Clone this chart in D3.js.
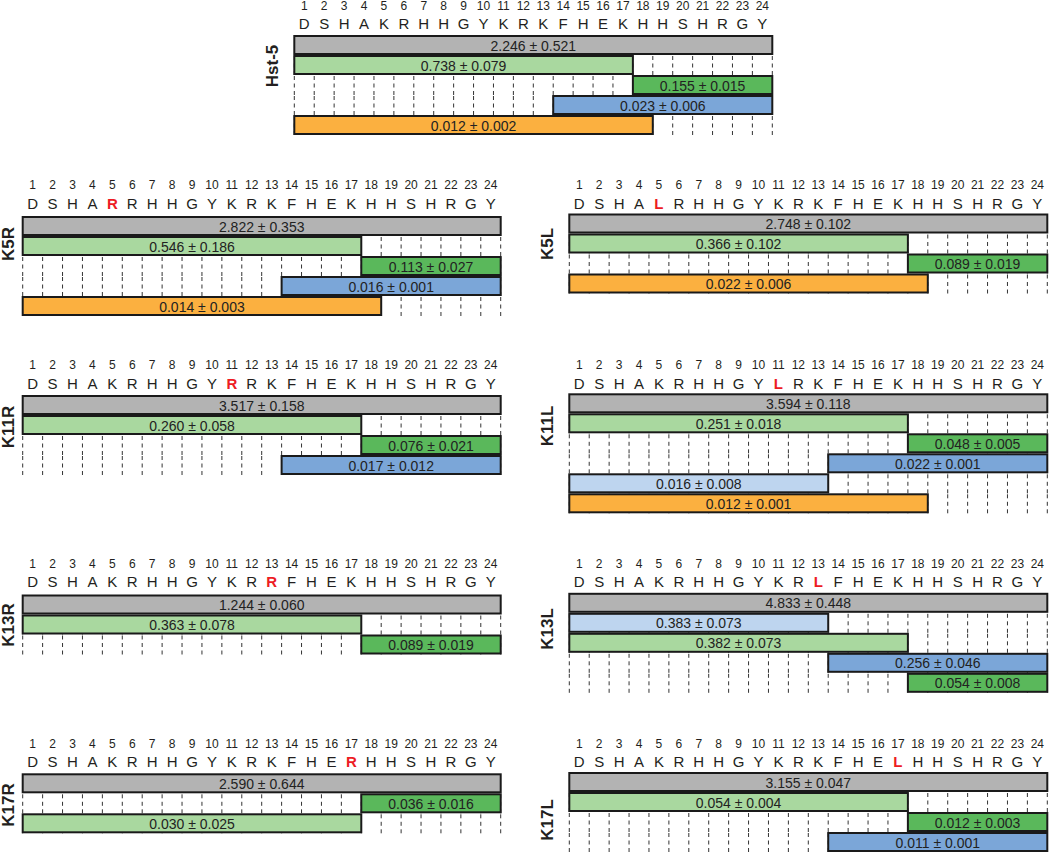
<!DOCTYPE html>
<html>
<head>
<meta charset="utf-8">
<script src="https://cdn.jsdelivr.net/npm/d3@7"></script>
<style>
  html, body { margin: 0; padding: 0; background: #fff; }
  svg { display: block; font-family: "Liberation Sans", Arial, sans-serif; }
</style>
</head>
<body>
<svg id="chart" width="1050" height="853"></svg>
<script>
// ---------------- DATA ----------------
const sequence = ["D","S","H","A","K","R","H","H","G","Y","K","R","K","F","H","E","K","H","H","S","H","R","G","Y"];
const positions = d3.range(1, 25);

const panelNames = ["Hst-5", "K5R", "K5L", "K11R", "K11L", "K13R", "K13L", "K17R", "K17L"];
const mutationPos = [null, 5, 5, 11, 11, 13, 13, 17, 17];
const mutationRes = [null, "R", "L", "R", "L", "R", "L", "R", "L"];

// fragments: [start, end, mean, sd] listed top to bottom
const fragHst5 = [[1,24,2.246,0.521],[1,17,0.738,0.079],[18,24,0.155,0.015],[14,24,0.023,0.006],[1,18,0.012,0.002]];
const fragK5R  = [[1,24,2.822,0.353],[1,17,0.546,0.186],[18,24,0.113,0.027],[14,24,0.016,0.001],[1,18,0.014,0.003]];
const fragK5L  = [[1,24,2.748,0.102],[1,17,0.366,0.102],[18,24,0.089,0.019],[1,18,0.022,0.006]];
const fragK11R = [[1,24,3.517,0.158],[1,17,0.260,0.058],[18,24,0.076,0.021],[14,24,0.017,0.012]];
const fragK11L = [[1,24,3.594,0.118],[1,17,0.251,0.018],[18,24,0.048,0.005],[14,24,0.022,0.001],[1,13,0.016,0.008],[1,18,0.012,0.001]];
const fragK13R = [[1,24,1.244,0.060],[1,17,0.363,0.078],[18,24,0.089,0.019]];
const fragK13L = [[1,24,4.833,0.448],[1,13,0.383,0.073],[1,17,0.382,0.073],[14,24,0.256,0.046],[18,24,0.054,0.008]];
const fragK17R = [[1,24,2.590,0.644],[18,24,0.036,0.016],[1,17,0.030,0.025]];
const fragK17L = [[1,24,3.155,0.047],[1,17,0.054,0.004],[18,24,0.012,0.003],[14,24,0.011,0.001]];
const fragments = [fragHst5, fragK5R, fragK5L, fragK11R, fragK11L, fragK13R, fragK13L, fragK17R, fragK17L];

// ---------------- LAYOUT / STYLE ----------------
const fragColor = {
  "1-24": "#b3b3b3",
  "1-17": "#a9d89f",
  "18-24": "#5ab85b",
  "14-24": "#7ba6d8",
  "1-18": "#fbb040",
  "1-13": "#bed5ef"
};
// [x0, numbersY, lettersY, barTop, labelX, labelY]
const layout = [
  [294.3,   5.5,  23.3,  35.0, 272,  66],
  [ 22.7, 185.0, 203.3, 216.0,   8, 244],
  [569.3, 185.0, 203.3, 213.5, 547, 244],
  [ 22.7, 365.0, 383.3, 395.0,   8, 427],
  [569.3, 365.0, 383.3, 393.3, 547, 426],
  [ 22.7, 563.5, 582.0, 594.5,   8, 625],
  [569.3, 563.3, 582.0, 592.8, 547, 629],
  [ 22.7, 743.3, 761.7, 773.3,   8, 805],
  [569.3, 743.3, 761.7, 772.0, 547, 820]
];
const panelWidth = 478;
const rowPitch = 20;
const textColor = "#231f20";
const fmt = d3.format(".3f");

const svg = d3.select("#chart");

panelNames.forEach((name, p) => {
  const [x0, numY, letY, barTop, labX, labY] = layout[p];
  const frags = fragments[p];
  const g = svg.append("g");
  const x = d3.scaleLinear().domain([0, 24]).range([x0, x0 + panelWidth]);
  const y = d3.scaleBand().domain(d3.range(frags.length))
              .range([barTop, barTop + frags.length * rowPitch]).paddingInner(0);

  // numbers
  g.selectAll("text.num").data(positions).join("text")
    .attr("class", "num")
    .attr("x", d => x(d - 0.5)).attr("y", numY).attr("dy", "0.36em")
    .attr("text-anchor", "middle").attr("font-size", 12).attr("fill", textColor)
    .text(d => d);

  // residues
  const seq = sequence.map((r, i) => (mutationPos[p] === i + 1 ? mutationRes[p] : r));
  g.selectAll("text.res").data(seq).join("text")
    .attr("class", "res")
    .attr("x", (d, i) => x(i + 0.5)).attr("y", letY).attr("dy", "0.36em")
    .attr("text-anchor", "middle").attr("font-size", 15)
    .attr("font-weight", (d, i) => mutationPos[p] === i + 1 ? "bold" : "normal")
    .attr("fill", (d, i) => mutationPos[p] === i + 1 ? "#ed1c24" : textColor)
    .text(d => d);

  // dashed guides in rows after the first
  const guideRows = d3.range(1, frags.length);
  guideRows.forEach(r => {
    g.selectAll(null).data(d3.range(0, 25)).join("line")
      .attr("x1", b => x(b)).attr("x2", b => x(b))
      .attr("y1", y(r) + 1).attr("y2", y(r) + y.bandwidth())
      .attr("stroke", "#333").attr("stroke-width", 1)
      .attr("stroke-dasharray", "4,3.5");
  });

  // bars
  const bars = g.selectAll("g.bar").data(frags).join("g").attr("class", "bar");
  bars.append("rect")
    .attr("x", d => x(d[0] - 1))
    .attr("y", (d, i) => y(i) + 1)
    .attr("width", d => x(d[1]) - x(d[0] - 1))
    .attr("height", y.bandwidth() - 2)
    .attr("fill", d => fragColor[d[0] + "-" + d[1]])
    .attr("stroke", "#1a1a1a").attr("stroke-width", 2);
  bars.append("text")
    .attr("x", d => (x(d[0] - 1) + x(d[1])) / 2)
    .attr("y", (d, i) => y(i) + y.bandwidth() / 2 + 0.5)
    .attr("dy", "0.36em").attr("text-anchor", "middle")
    .attr("font-size", 14).attr("fill", "#222")
    .text(d => fmt(d[2]) + " \u00b1 " + fmt(d[3]));

  // panel label
  g.append("text")
    .attr("transform", `translate(${labX},${labY}) rotate(-90)`)
    .attr("dy", "0.36em").attr("text-anchor", "middle")
    .attr("font-size", 17).attr("font-weight", "bold").attr("fill", textColor)
    .text(name);
});
</script>
</body>
</html>
